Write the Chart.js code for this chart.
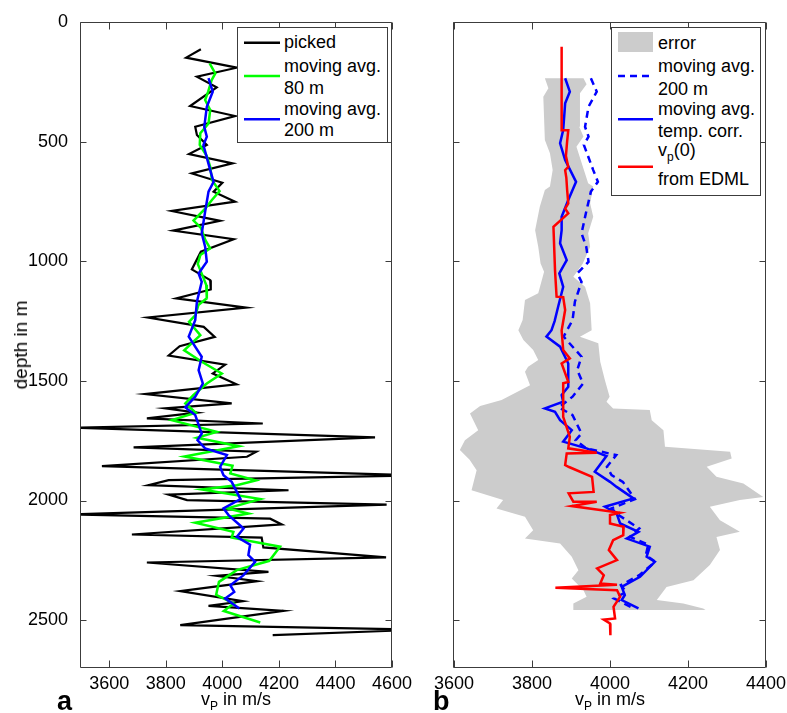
<!DOCTYPE html>
<html><head><meta charset="utf-8">
<script src="https://cdn.jsdelivr.net/npm/chart.js@4"></script>
<style>
body{margin:0;width:787px;height:713px;overflow:hidden;background:#fff;position:relative;font-family:"Liberation Sans",Arial,sans-serif;color:#000}
.abs{position:absolute}
.leg{position:absolute;border:1px solid #3c3c3c;background:#fff;box-sizing:border-box}
.lt{position:absolute;font-size:18px;line-height:18px;white-space:nowrap}
.sub{font-size:12px;position:relative;top:5px}
</style></head><body>
<div class="abs" style="left:0;top:0;width:420px;height:713px"><canvas id="ca" width="420" height="713"></canvas></div>
<div class="abs" style="left:420px;top:0;width:380px;height:713px"><canvas id="cb" width="380" height="713"></canvas></div>

<div class="lt" style="left:21px;top:345px;font-size:19px;transform:translate(-50%,-50%) rotate(-90deg);transform-origin:center">depth in m</div>
<div class="lt" style="left:236px;top:690px;transform:translateX(-50%)">v<span class="sub">P</span> in m/s</div>
<div class="lt" style="left:610px;top:690px;transform:translateX(-50%)">v<span class="sub">P</span> in m/s</div>
<div class="abs" style="left:57px;top:688px;font-size:27px;font-weight:bold;line-height:27px">a</div>
<div class="abs" style="left:433px;top:688px;font-size:27px;font-weight:bold;line-height:27px">b</div>

<div class="leg" style="left:237px;top:27px;width:151px;height:116px"></div>
<svg class="abs" style="left:0;top:0" width="787" height="713">
  <line x1="244" x2="280" y1="42.7" y2="42.7" stroke="#000" stroke-width="2.5"/>
  <line x1="244" x2="280" y1="76" y2="76" stroke="#00ff00" stroke-width="2.5"/>
  <line x1="244" x2="280" y1="119.3" y2="119.3" stroke="#0000ff" stroke-width="2.5"/>
</svg>
<div class="lt" style="left:284px;top:33px">picked</div>
<div class="lt" style="left:284px;top:57px">moving avg.</div>
<div class="lt" style="left:284px;top:79px">80 m</div>
<div class="lt" style="left:284px;top:100px">moving avg.</div>
<div class="lt" style="left:284px;top:121px">200 m</div>

<div class="leg" style="left:611px;top:27px;width:150px;height:169px"></div>
<svg class="abs" style="left:0;top:0" width="787" height="713">
  <rect x="618" y="32" width="35" height="20" fill="#cccccc"/>
  <line x1="618" x2="653" y1="76" y2="76" stroke="#0000ff" stroke-width="2.5" stroke-dasharray="7,5"/>
  <line x1="618" x2="653" y1="119.3" y2="119.3" stroke="#0000ff" stroke-width="2.5"/>
  <line x1="618" x2="653" y1="166.7" y2="166.7" stroke="#ff0000" stroke-width="2.5"/>
</svg>
<div class="lt" style="left:658px;top:34px">error</div>
<div class="lt" style="left:658px;top:57px">moving avg.</div>
<div class="lt" style="left:658px;top:80px">200 m</div>
<div class="lt" style="left:658px;top:100px">moving avg.</div>
<div class="lt" style="left:658px;top:122px">temp. corr.</div>
<div class="lt" style="left:658px;top:141px">v<span class="sub">p</span>(0)</div>
<div class="lt" style="left:658px;top:170px">from EDML</div>

<script>
// ---- tick labels ----
const yTicks = [0, 500, 1000, 1500, 2000, 2500];
const xTicksA = [3600, 3800, 4000, 4200, 4400, 4600];
const xTicksB = [3600, 3800, 4000, 4200, 4400];

// ---- panel a: [depth (m), vP (m/s)] ----
const picked = [[114,3924],[149,3872],[191,4051],[229,3910],[273,3980],[351,3886],[393,4045],[438,3904],[472,3910],[514,3945],[552,3882],[591,4036],[633,3892],[672,4000],[709,3969],[751,4045],[790,3821],[831,3992],[872,3826],[908,4040],[960,3924],[1034,3892],[1079,3957],[1118,3959],[1155,3837],[1194,4084],[1235,3737],[1274,3934],[1316,3973],[1355,3849],[1394,3810],[1432,4010],[1469,3966],[1514,4050],[1555,3727],[1594,4033],[1615,3798],[1633,3910],[1657,3733],[1678,4143],[1696,3490],[1736,4540],[1778,3686],[1796,4120],[1817,4087],[1856,3574],[1895,4700],[1915,3810],[1936,3739],[1957,4234],[1975,3810],[1998,3875],[2017,4581],[2058,3470],[2076,4169],[2100,4210],[2142,3680],[2155,4139],[2196,4145],[2238,4579],[2259,3733],[2298,4163],[2315,3980],[2337,4122],[2379,3851],[2421,4072],[2440,3951],[2461,4216],[2521,3851],[2540,4700],[2563,4178]];
const movAvg80 = [[173,3955],[215,3975],[243,3962],[290,3950],[326,3939],[368,3957],[424,3951],[465,3922],[514,3920],[560,3945],[605,3957],[660,3963],[707,3990],[744,3963],[779,3940],[830,3898],[860,3924],[912,3940],[946,3957],[974,3922],[1011,3913],[1060,3930],[1099,3943],[1155,3945],[1183,3915],[1225,3905],[1253,3882],[1309,3922],[1372,3865],[1420,3927],[1469,3998],[1511,3945],[1559,3898],[1594,3869],[1633,3906],[1664,3821],[1713,3980],[1738,3910],[1773,4058],[1816,3866],[1855,4036],[1887,4028],[1916,4118],[1936,4051],[1954,3927],[1994,4134],[2033,4018],[2054,4092],[2093,3904],[2131,4039],[2155,4033],[2193,4204],[2252,4166],[2291,4051],[2340,3988],[2394,3978],[2430,4040],[2462,4005],[2510,4134]];
const movAvg200 = [[235,3951],[291,3966],[354,3945],[438,3936],[479,3945],[514,3933],[619,3957],[668,3969],[709,3951],[793,3939],[883,3927],[939,3939],[1002,3945],[1051,3916],[1086,3927],[1169,3910],[1246,3904],[1315,3881],[1399,3927],[1455,3916],[1511,3931],[1566,3904],[1611,3869],[1643,3904],[1720,3927],[1748,3912],[1782,3939],[1810,4016],[1859,3992],[1894,4004],[1922,4033],[1994,4064],[2033,4004],[2061,4022],[2117,4075],[2152,4051],[2184,4098],[2228,4092],[2256,4116],[2312,4075],[2354,4028],[2382,4042],[2409,4010],[2451,4060]];

// ---- panel b ----
const tempCorr = [[235,3885],[291,3897],[340,3885],[452,3880],[507,3872],[577,3885],[668,3913],[744,3893],[814,3876],[870,3876],[925,3872],[995,3889],[1051,3870],[1107,3880],[1190,3867],[1250,3858],[1288,3850],[1315,3837],[1357,3872],[1427,3893],[1525,3893],[1559,3876],[1587,3880],[1615,3833],[1629,3859],[1664,3872],[1706,3902],[1754,3880],[1782,3940],[1814,3991],[1880,3961],[1922,4000],[1943,4017],[1991,4060],[2026,3987],[2054,4017],[2096,4026],[2131,4073],[2159,4043],[2193,4102],[2235,4094],[2256,4115],[2319,4077],[2361,4030],[2395,4038],[2416,4030],[2451,4073]];
const edml = [[103,3876],[452,3876],[452,3893],[500,3890],[560,3887],[605,3893],[619,3885],[650,3888],[700,3890],[758,3893],[780,3885],[800,3893],[856,3855],[1037,3859],[1148,3863],[1150,3880],[1204,3885],[1290,3876],[1371,3880],[1406,3897],[1427,3876],[1504,3893],[1510,3880],[1650,3880],[1734,3897],[1782,3893],[1800,3966],[1803,3889],[1852,3885],[1860,3895],[1901,3954],[1964,3958],[1970,3894],[2005,3906],[2005,3966],[2023,3902],[2051,4026],[2061,4000],[2096,4000],[2110,4035],[2145,4034],[2166,4008],[2207,3997],[2249,4018],[2284,3967],[2312,3984],[2347,3975],[2352,4018],[2365,3860],[2375,4018],[2402,4026],[2444,4009],[2493,4013],[2498,3984],[2514,4000],[2563,4001]];
const errLow = [[235,3833],[277,3842],[312,3829],[493,3833],[549,3846],[619,3853],[688,3846],[702,3833],[772,3820],[870,3808],[939,3816],[1009,3822],[1044,3831],[1134,3816],[1162,3782],[1246,3776],[1288,3765],[1329,3778],[1371,3803],[1413,3816],[1441,3790],[1462,3782],[1518,3795],[1580,3722],[1605,3667],[1636,3641],[1706,3662],[1748,3628],[1789,3615],[1830,3640],[1873,3658],[1957,3645],[1998,3726],[2033,3709],[2068,3782],[2124,3803],[2159,3782],[2180,3872],[2235,3902],[2291,3919],[2326,3902],[2375,3932],[2402,3940],[2430,3906],[2458,3906]];
const errHigh = [[235,3932],[260,3940],[298,3923],[438,3921],[479,3932],[521,3914],[633,3936],[674,3944],[688,3957],[758,3949],[814,3957],[883,3944],[939,3949],[1010,3930],[1065,3906],[1107,3936],[1176,3949],[1288,3953],[1315,3923],[1343,3970],[1420,3975],[1497,3987],[1566,3999],[1587,3991],[1615,4008],[1622,4102],[1664,4107],[1706,4137],[1775,4141],[1796,4308],[1824,4312],[1859,4248],[1901,4273],[1929,4342],[1985,4393],[1998,4333],[2026,4256],[2082,4282],[2131,4333],[2152,4273],[2207,4282],[2270,4256],[2333,4214],[2361,4145],[2416,4120],[2430,4188],[2451,4239],[2458,4245]];

const FONT = {family: '"Liberation Sans", Arial, sans-serif', size: 18};
const toXY = arr => arr.map(p => ({x: p[1], y: p[0]}));
function ds(arr, color, w, extra) {
  return Object.assign({data: toXY(arr), showLine: true, borderColor: color, borderWidth: w,
    pointRadius: 0, pointHoverRadius: 0, fill: false, tension: 0}, extra || {});
}
function framePlugin(xt) {
  return {
    id: 'frame',
    afterDraw(chart) {
      const {ctx, chartArea: a, scales} = chart;
      const x = scales.x, y = scales.y;
      const L = Math.round(a.left) - 0.5, R = Math.round(a.right) - 0.5;
      const T = Math.round(a.top) + 0.5, B = Math.round(a.bottom) - 0.5;
      ctx.save();
      ctx.strokeStyle = '#3c3c3c'; ctx.lineWidth = 1;
      ctx.beginPath();
      ctx.rect(L, T, R - L, B - T);
      xt.forEach(v => { const p = Math.round(x.getPixelForValue(v)) + 0.5;
        ctx.moveTo(p, T); ctx.lineTo(p, T + 7); ctx.moveTo(p, B); ctx.lineTo(p, B - 7); });
      yTicks.forEach(v => { const p = Math.round(y.getPixelForValue(v)) + 0.5;
        ctx.moveTo(L, p); ctx.lineTo(L + 6, p); ctx.moveTo(R, p); ctx.lineTo(R - 6, p); });
      ctx.stroke();
      ctx.restore();
    }
  };
}
function opts(xmin, xmax, xt, showY, padding, yW) {
  return {
    responsive: false, animation: false, devicePixelRatio: 1, events: [],
    layout: {padding},
    plugins: {legend: {display: false}, tooltip: {enabled: false}},
    scales: {
      x: {type: 'linear', position: 'bottom', min: xmin, max: xmax,
        afterBuildTicks: s => { s.ticks = xt.map(v => ({value: v})); },
        afterFit: s => { s.height = 45; },
        grid: {display: false}, border: {display: false},
        ticks: {autoSkip: false, maxRotation: 0, minRotation: 0, padding: -3, color: '#000', font: FONT,
          callback: v => String(v)}},
      y: {type: 'linear', position: 'left', min: 0, max: 2700, reverse: true,
        afterBuildTicks: s => { s.ticks = yTicks.map(v => ({value: v})); },
        afterFit: s => { s.width = yW; },
        grid: {display: false}, border: {display: false},
        ticks: {display: showY, autoSkip: false, padding: 5, color: '#000', font: FONT,
          callback: v => String(v)}}
    }
  };
}

new Chart(document.getElementById('ca'), {
  type: 'scatter',
  data: {datasets: [
    ds(movAvg200, '#0000ff', 2.5),
    ds(movAvg80, '#00ff00', 2.5),
    ds(picked, '#000000', 2.2)
  ]},
  options: opts(3500, 4600, xTicksA, true, {left: 0, top: 22, right: 28, bottom: 0}, 81),
  plugins: [framePlugin(xTicksA)]
});

const band = errLow.concat(errHigh.slice().reverse());
new Chart(document.getElementById('cb'), {
  type: 'scatter',
  data: {datasets: [
    ds(edml, '#ff0000', 2.5),
    ds(tempCorr, '#0000ff', 2.5),
    ds(movAvg200, '#0000ff', 2.5, {borderDash: [7, 5]}),
    ds(band, 'rgba(0,0,0,0)', 0, {fill: 'shape', backgroundColor: '#cccccc'})
  ]},
  options: opts(3600, 4400, xTicksB, false, {left: 0, top: 22, right: 34, bottom: 0}, 34),
  plugins: [framePlugin(xTicksB)]
});
</script>
</body></html>
